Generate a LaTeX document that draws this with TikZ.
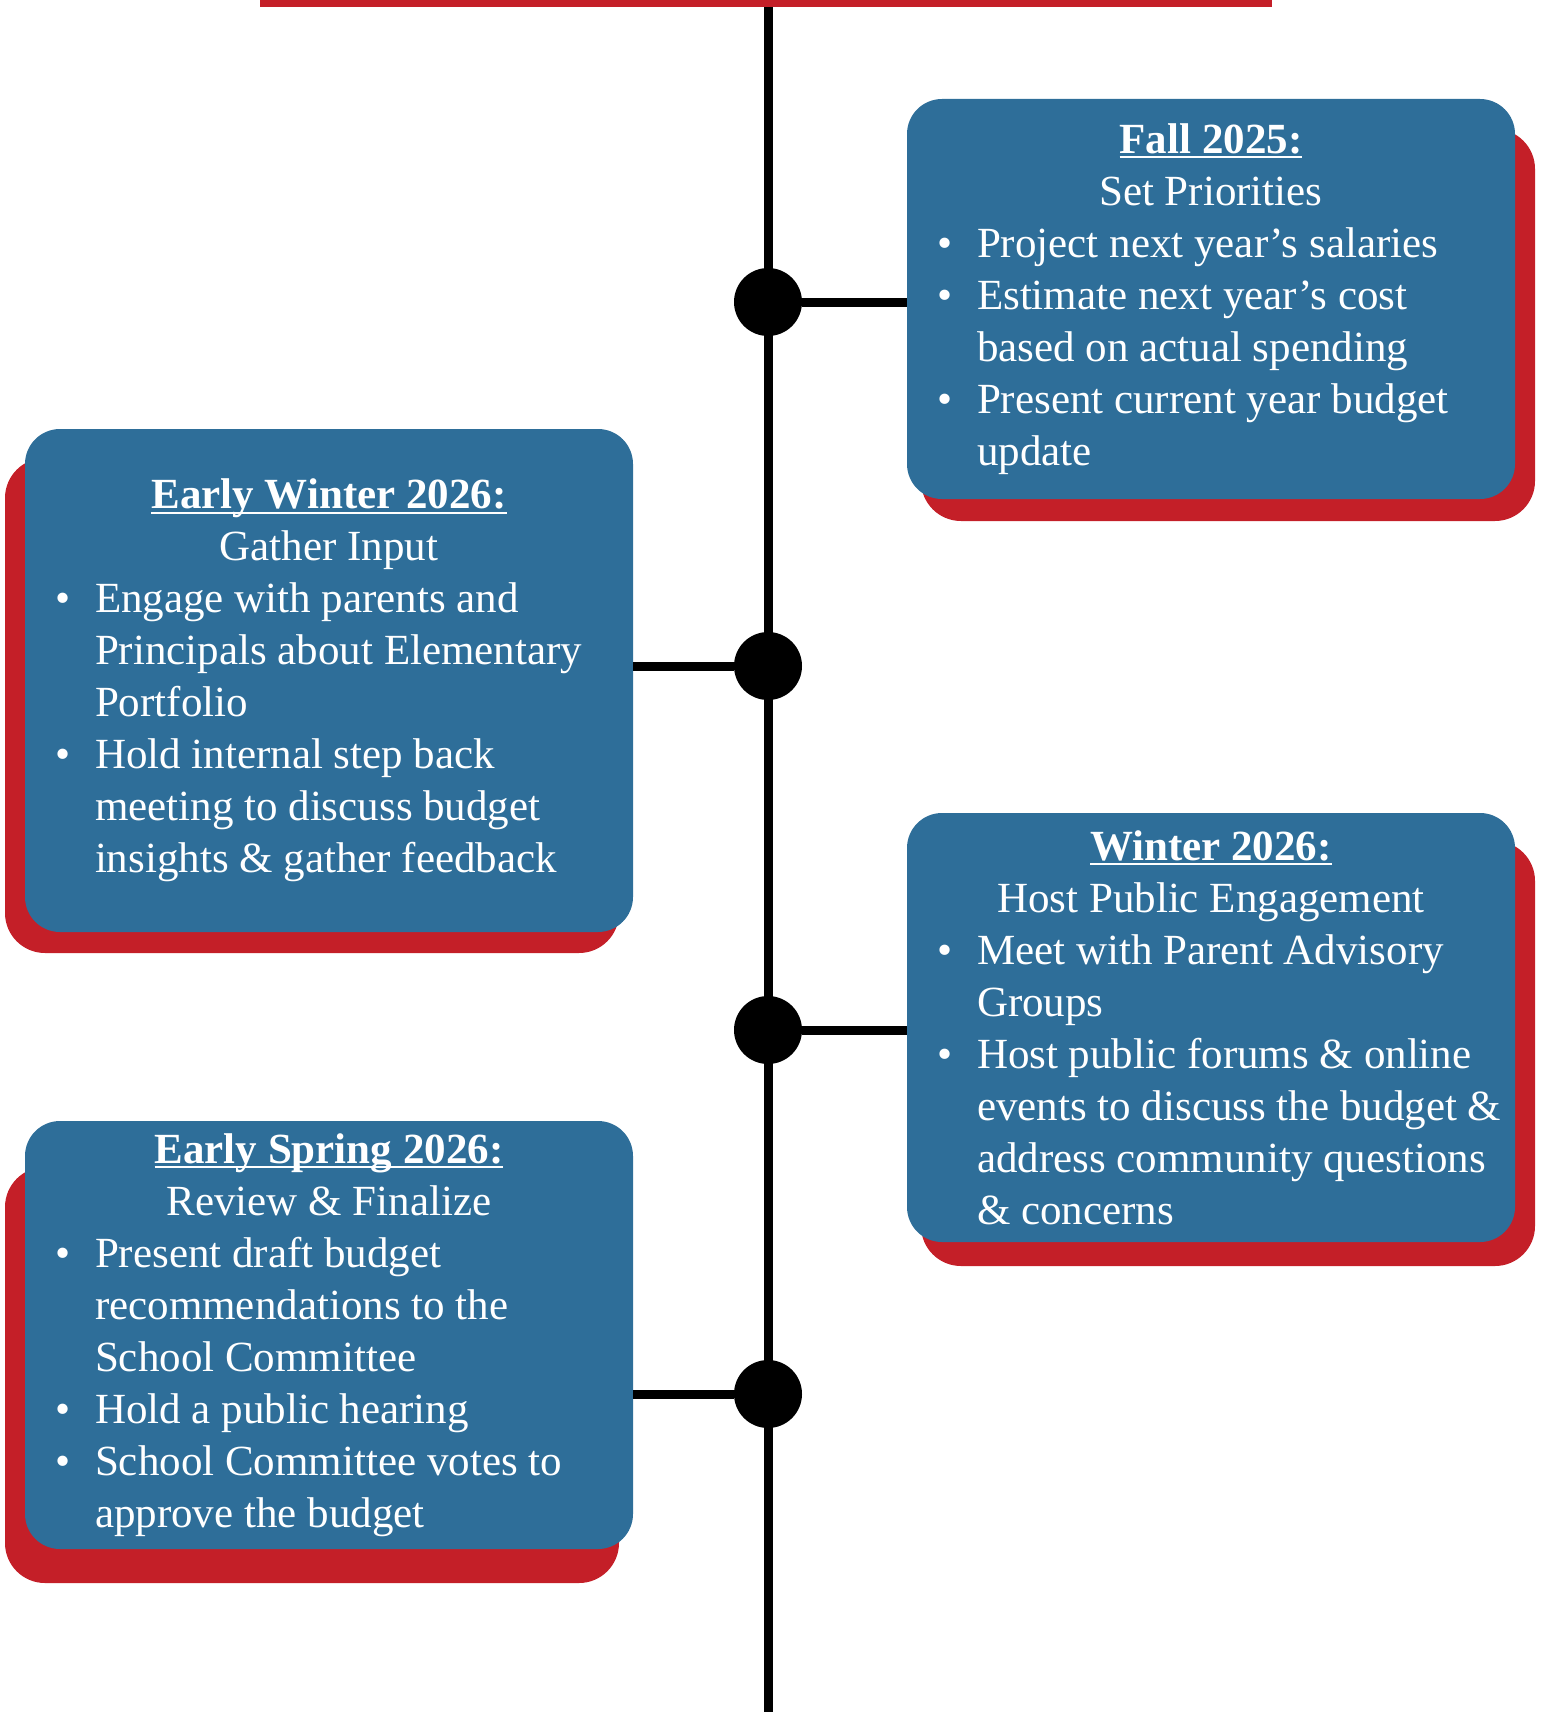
\documentclass[tikz,border=0pt]{standalone}
\usepackage{fontspec}
\setmainfont{Liberation Serif}
\usepackage{xcolor}
\usepackage{enumitem}
\definecolor{stepblue}{HTML}{2E6E99}
\definecolor{stepred}{HTML}{C41F28}
\newcommand{\ulinetitle}[1]{\setbox0\hbox{\bfseries #1}\rlap{\rule[-2.5pt]{\wd0}{1pt}}\box0}
\newcommand{\boxhead}[2]{{\centering\ulinetitle{#1}\\#2\par}}
\setlist[itemize]{leftmargin=31pt,labelsep=12pt,topsep=0pt,partopsep=0pt,parsep=0pt,itemsep=0pt}

\begin{document}
\begin{tikzpicture}[x=0.5pt,y=0.5pt]
		\tikzstyle{every node}+=[inner sep=0pt]
		\tikzstyle{phase}=[fill=stepblue, rounded corners=17.5pt, text=white, inner xsep=4pt, text width=296pt, align=flush left, font=\fontsize{21.5pt}{26pt}\selectfont]
		\tikzstyle{backshade}=[fill=stepred, rounded corners=20pt]
		\tikzstyle{milestone}=[circle, fill=black, minimum size=34pt]
		\tikzstyle{spine}=[black, line width=4.5pt]
		\useasboundingbox (0,0) rectangle (1546,-1712);
		% shadows behind the boxes
		\fill [backshade] (921,-129) rectangle (1535,-521);
		\fill [backshade] (5,-458) rectangle (619,-953);
		\fill [backshade] (921,-841) rectangle (1535,-1266);
		\fill [backshade] (5,-1167) rectangle (619,-1583);
		% top bar and time line
		\fill [stepred] (260,0) rectangle (1272,-7);
		\coordinate (top) at (768,-7);
		\coordinate (bottom) at (768,-1712);
		\draw [spine] (top) -- (bottom);
		% phases
		\node [phase, minimum height=200pt] (fall) at (1211,-299) {\boxhead{Fall 2025:}{Set Priorities}
			\begin{itemize}
			\item Project next year’s salaries
			\item Estimate next year’s cost\\ based on actual spending
			\item Present current year budget\\ update
			\end{itemize}};
		\node [phase, minimum height=251.5pt] (earlywinter) at (329,-680.5) {\boxhead{Early Winter 2026:}{Gather Input}
			\begin{itemize}
			\item Engage with parents and\\ Principals about Elementary\\ Portfolio
			\item Hold internal step back\\ meeting to discuss budget\\ insights \& gather feedback
			\end{itemize}};
		\node [phase, minimum height=214.5pt] (winter) at (1211,-1027.5) {\boxhead{Winter 2026:}{Host Public Engagement}
			\begin{itemize}
			\item Meet with Parent Advisory\\ Groups
			\item Host public forums \& online\\ events to discuss the budget~\&\\ address community questions\\ \& concerns
			\end{itemize}};
		\node [phase, minimum height=214pt] (earlyspring) at (329,-1335) {\boxhead{Early Spring 2026:}{Review \& Finalize}
			\begin{itemize}
			\item Present draft budget\\ recommendations to the\\ School Committee
			\item Hold a public hearing
			\item School Committee votes to\\ approve the budget
			\end{itemize}};
		% milestones
		\node [milestone] (m1) at (768,-302) {};
		\node [milestone] (m2) at (768,-666) {};
		\node [milestone] (m3) at (768,-1030) {};
		\node [milestone] (m4) at (768,-1394) {};
		\draw [spine] (m1) -- (m1 -| fall.west);
		\draw [spine] (m2) -- (m2 -| earlywinter.east);
		\draw [spine] (m3) -- (m3 -| winter.west);
		\draw [spine] (m4) -- (m4 -| earlyspring.east);
	\end{tikzpicture}
\end{document}
